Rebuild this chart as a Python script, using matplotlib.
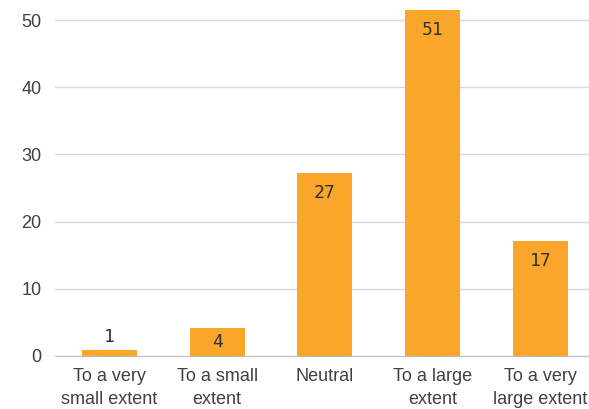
import matplotlib
matplotlib.use("Agg")
import matplotlib.pyplot as plt

categories = ["To a very\nsmall extent", "To a small\nextent", "Neutral",
              "To a large\nextent", "To a very\nlarge extent"]
values = [0.9, 4.2, 27.2, 51.5, 17.1]
labels = ["1", "4", "27", "51", "17"]

plt.rcParams["font.family"] = ["Liberation Sans", "DejaVu Sans"]

fig = plt.figure(figsize=(5.89, 4.09), dpi=100)
ax = fig.add_axes([0.094, 0.1296, 0.906, 0.8704])

x = range(len(categories))
bars = ax.bar(x, values, width=0.51, color="#F9A62B", zorder=3)

for b, lab in zip(bars, labels):
    h = b.get_height()
    cx = b.get_x() + b.get_width() / 2
    if h < 3:
        off, va = 3, "bottom"
    elif h < 6:
        off, va = -4, "top"
    else:
        off, va = -8, "top"
    ax.annotate(lab, (cx, h), xytext=(0, off), textcoords="offset points",
                ha="center", va=va, fontsize=13, color="#333333",
                family="DejaVu Sans Mono", zorder=4)

ax.set_xlim(-0.5, 4.45)
ax.set_ylim(0, 53)
ax.set_yticks([0, 10, 20, 30, 40, 50])
ax.set_xticks(list(x))
ax.set_xticklabels(categories, linespacing=1.45)
ax.yaxis.grid(True, color="#D9D9D9", linewidth=1, zorder=0)
ax.tick_params(axis="both", length=0, labelsize=13, labelcolor="#404040")
ax.tick_params(axis="y", pad=10)
ax.tick_params(axis="x", pad=9)

for side in ["top", "right", "left"]:
    ax.spines[side].set_visible(False)
ax.spines["bottom"].set_color("#BFBFBF")

fig.savefig("out.png", dpi=100)
